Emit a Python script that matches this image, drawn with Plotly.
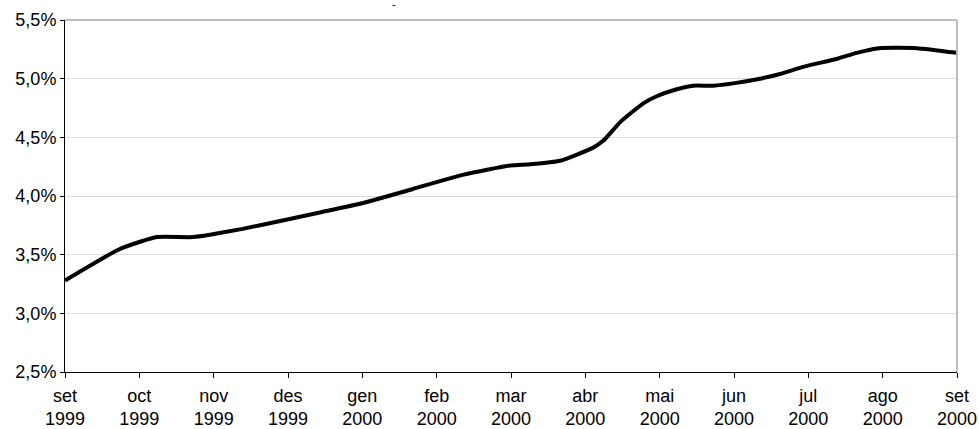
import plotly.graph_objects as go

# x positions in months since Sep 1999, values in percent
month_pos = [0, 0.71, 1.01, 1.24, 1.72, 1.95, 2.39, 2.99, 3.43, 4.01, 4.68, 5.35, 5.99, 6.26, 6.66,
             7.10, 7.24, 7.47, 7.78, 7.96, 8.23, 8.45, 8.72, 8.99, 9.35, 9.62, 9.93, 10.39, 10.65,
             10.95, 11.46, 12.0]
rate = [3.28, 3.54, 3.61, 3.65, 3.65, 3.67, 3.72, 3.80, 3.86, 3.94, 4.06, 4.18, 4.26, 4.27, 4.30,
        4.41, 4.47, 4.63, 4.79, 4.85, 4.91, 4.94, 4.94, 4.96, 5.00, 5.04, 5.10, 5.17, 5.22,
        5.26, 5.26, 5.22]

tick_pos = list(range(13))
tick_text = ["set<br>1999", "oct<br>1999", "nov<br>1999", "des<br>1999", "gen<br>2000", "feb<br>2000",
             "mar<br>2000", "abr<br>2000", "mai<br>2000", "jun<br>2000", "jul<br>2000", "ago<br>2000",
             "set<br>2000"]
y_ticks = [2.5, 3.0, 3.5, 4.0, 4.5, 5.0, 5.5]
y_tick_text = ["2,5%", "3,0%", "3,5%", "4,0%", "4,5%", "5,0%", "5,5%"]

fig = go.Figure()
fig.add_trace(go.Scatter(
    x=month_pos, y=rate, mode="lines",
    line=dict(color="black", width=4, shape="spline", smoothing=0.5),
    hoverinfo="skip", showlegend=False,
))

fig.update_layout(
    width=979, height=429,
    margin=dict(l=65, r=22, t=20, b=57),
    paper_bgcolor="white", plot_bgcolor="white",
    font=dict(family="Liberation Sans, Arial, sans-serif", size=18, color="black"),
    showlegend=False,
    xaxis=dict(
        range=[0, 12], tickmode="array", tickvals=tick_pos, ticktext=tick_text,
        showgrid=False, zeroline=False, showline=True, linecolor="black", linewidth=1,
        ticks="outside", ticklen=5, tickcolor="black", tickwidth=1,
        tickfont=dict(size=18), automargin=False, ticklabelstandoff=2,
    ),
    yaxis=dict(
        range=[2.5, 5.5], tickmode="array", tickvals=y_ticks, ticktext=y_tick_text,
        showgrid=True, gridcolor="#dcdcdc", gridwidth=1, zeroline=False,
        showline=True, linecolor="black", linewidth=1,
        ticks="outside", ticklen=4, tickcolor="black", tickwidth=1,
        tickfont=dict(size=18), automargin=False,
    ),
    shapes=[
        dict(type="line", xref="paper", yref="paper", x0=0, x1=1, y0=1, y1=1,
             line=dict(color="#bcbcbc", width=2)),
        dict(type="line", xref="paper", yref="paper", x0=1, x1=1, y0=0, y1=1,
             line=dict(color="#bcbcbc", width=2)),
    ],
    annotations=[
        dict(text="-", xref="paper", yref="paper", x=0.369, y=1.0, yanchor="bottom", yshift=8,
             showarrow=False, font=dict(size=11, color="black")),
    ],
)

fig.write_html("out.html", config={"displayModeBar": False},
               post_script="document.body.style.margin='0px';")
